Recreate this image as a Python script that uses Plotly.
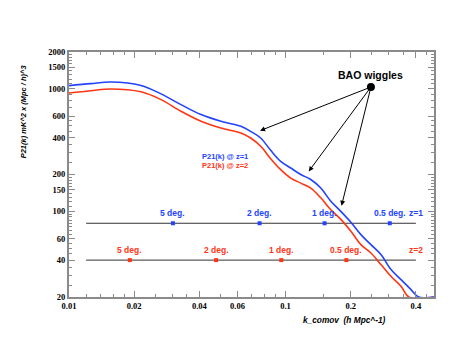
import numpy as np
import plotly.graph_objects as go

# P21(k) curves
k_z1 = [0.01, 0.0126, 0.0156, 0.0215, 0.0266, 0.0329, 0.0407, 0.0503, 0.0622, 0.069, 0.0768,
        0.0854, 0.095, 0.1057, 0.1176, 0.1308, 0.1455, 0.1619, 0.1801, 0.2004, 0.2229, 0.248,
        0.2759, 0.3069, 0.3415, 0.3799, 0.412, 0.485]
p21_z1 = [1063, 1104, 1138, 1066, 910, 744, 617, 544, 495, 450, 397,
          315, 256, 226, 200, 182, 155, 121, 100, 81.5, 64.6, 53.5,
          44.4, 33.5, 27.7, 23.0, 20, 20]

k_z2 = [0.01, 0.0126, 0.0156, 0.0215, 0.0266, 0.0329, 0.0407, 0.0503, 0.0622, 0.069, 0.0768,
        0.0854, 0.095, 0.1057, 0.1176, 0.1308, 0.1455, 0.1619, 0.1801, 0.2004, 0.2229, 0.248,
        0.2759, 0.3069, 0.3415, 0.3713, 0.485]
p21_z2 = [925, 965, 998, 946, 817, 656, 544, 479, 436, 397, 340,
          269, 219, 187, 170, 155, 129, 103, 86.1, 68.8, 53.5, 45.7,
          36.8, 29.5, 24.5, 20, 20]

# angular scales
deg_labels = ["5 deg.", "2 deg.", "1 deg.", "0.5 deg."]
k_deg_z1 = [0.0302, 0.0759, 0.1515, 0.303]
k_deg_z2 = [0.0191, 0.0478, 0.0956, 0.191]
level_z1 = 80
level_z2 = 40
line_k = [0.012, 0.4]

# BAO annotation
bao_dot = (0.248, 1036)
bao_tips = [(0.0763, 456), (0.128, 212), (0.1814, 111)]

y_ticks = [20, 40, 60, 100, 150, 200, 400, 600, 1000, 1500, 2000]
x_ticks = [0.01, 0.02, 0.04, 0.06, 0.1, 0.2, 0.4]

BLUE = "#2343ff"
RED = "#ff3514"
GREY = "#8a8a8a"

fig = go.Figure()

# horizontal reference lines
for lvl in [level_z1, level_z2]:
    fig.add_trace(go.Scatter(x=line_k, y=[lvl, lvl], mode="lines",
                             line=dict(color="#333333", width=1), hoverinfo="skip"))

fig.add_trace(go.Scatter(x=k_z2, y=p21_z2, mode="lines", line=dict(color=RED, width=1.6, shape="spline")))
fig.add_trace(go.Scatter(x=k_z1, y=p21_z1, mode="lines", line=dict(color=BLUE, width=1.6, shape="spline")))

fig.add_trace(go.Scatter(x=k_deg_z1, y=[level_z1] * 4, mode="markers",
                         marker=dict(color=BLUE, size=4, symbol="square")))
fig.add_trace(go.Scatter(x=k_deg_z2, y=[level_z2] * 4, mode="markers",
                         marker=dict(color=RED, size=4, symbol="square")))

fig.add_trace(go.Scatter(x=[bao_dot[0]], y=[bao_dot[1]], mode="markers",
                         marker=dict(color="black", size=8)))

lab_font = dict(family="Arial", size=8.5, weight="bold")
for lab, kk in zip(deg_labels, k_deg_z1):
    fig.add_annotation(x=np.log10(kk), y=np.log10(level_z1), text=lab, showarrow=False,
                       yshift=10, font=dict(lab_font, color=BLUE))
for lab, kk in zip(deg_labels, k_deg_z2):
    fig.add_annotation(x=np.log10(kk), y=np.log10(level_z2), text=lab, showarrow=False,
                       yshift=10, font=dict(lab_font, color=RED))
fig.add_annotation(x=np.log10(line_k[1]), y=np.log10(level_z1), text="z=1", showarrow=False,
                   yshift=10, font=dict(lab_font, color=BLUE))
fig.add_annotation(x=np.log10(line_k[1]), y=np.log10(level_z2), text="z=2", showarrow=False,
                   yshift=10, font=dict(lab_font, color=RED))

# legend text
fig.add_annotation(x=np.log10(0.0523), y=np.log10(282), text="P21(k) @ z=1", showarrow=False,
                   font=dict(family="Arial", size=7.5, weight="bold", color=BLUE))
fig.add_annotation(x=np.log10(0.0523), y=np.log10(237), text="P21(k) @ z=2", showarrow=False,
                   font=dict(family="Arial", size=7.5, weight="bold", color=RED))

# BAO arrows
for tk, tv in bao_tips:
    fig.add_annotation(x=np.log10(tk), y=np.log10(tv), ax=np.log10(bao_dot[0]), ay=np.log10(bao_dot[1]),
                       xref="x", yref="y", axref="x", ayref="y", text="", showarrow=True,
                       arrowhead=2, arrowsize=1, arrowwidth=1, arrowcolor="black")
fig.add_annotation(x=np.log10(bao_dot[0]), y=np.log10(1291), text="BAO wiggles", showarrow=False,
                   font=dict(family="Arial", size=10.5, weight="bold", color="black"))

# axis titles
fig.add_annotation(xref="paper", yref="paper", x=-0.126, y=0.758, xanchor="center", yanchor="middle",
                   textangle=-90, text="<i>P21(k) mK^2 x (Mpc / h)^3</i>", showarrow=False,
                   font=dict(family="Arial", size=7.5, weight="bold", color="black"))
fig.add_annotation(xref="paper", yref="paper", x=0.756, y=-0.095, xanchor="center", yanchor="middle",
                   text="<i>k_comov  (h Mpc^-1)</i>", showarrow=False,
                   font=dict(family="Arial", size=8.3, weight="bold", color="black"))

x_minor = [0.012, 0.014, 0.016, 0.018, 0.025, 0.03, 0.035, 0.05, 0.07, 0.08, 0.09,
           0.15, 0.25, 0.3, 0.35, 0.45]
y_minor = [25, 30, 35, 45, 50, 55, 65, 70, 75, 80, 85, 90, 95, 110, 120, 130, 140, 160, 170, 180, 190,
           250, 300, 350, 450, 500, 550, 700, 800, 900, 1100, 1200, 1300, 1400, 1600, 1700, 1800, 1900]

tick_font = dict(family="Liberation Serif", size=8.5, weight="bold", color="black")
axis_common = dict(showline=True, linecolor=GREY, linewidth=2, mirror="ticks", ticks="inside",
                   ticklen=6, tickcolor=GREY, tickwidth=1, showgrid=False, zeroline=False,
                   tickfont=tick_font)

fig.update_xaxes(type="log", range=[np.log10(0.01), np.log10(0.485)], tickvals=x_ticks,
                 ticktext=[str(v) for v in x_ticks],
                 minor=dict(tickvals=x_minor, ticks="inside", ticklen=3, tickcolor=GREY, showgrid=False),
                 **axis_common)
fig.update_yaxes(type="log", range=[np.log10(20), np.log10(2000)], tickvals=y_ticks,
                 ticktext=[str(v) for v in y_ticks],
                 minor=dict(tickvals=y_minor, ticks="inside", ticklen=3, tickcolor=GREY, showgrid=False),
                 **axis_common)

# margins allow for the page's own body offset
fig.update_layout(width=473, height=355, showlegend=False,
                  margin=dict(l=61, r=47, t=44, b=66),
                  plot_bgcolor="white", paper_bgcolor="white")

fig.write_html("out.html")
